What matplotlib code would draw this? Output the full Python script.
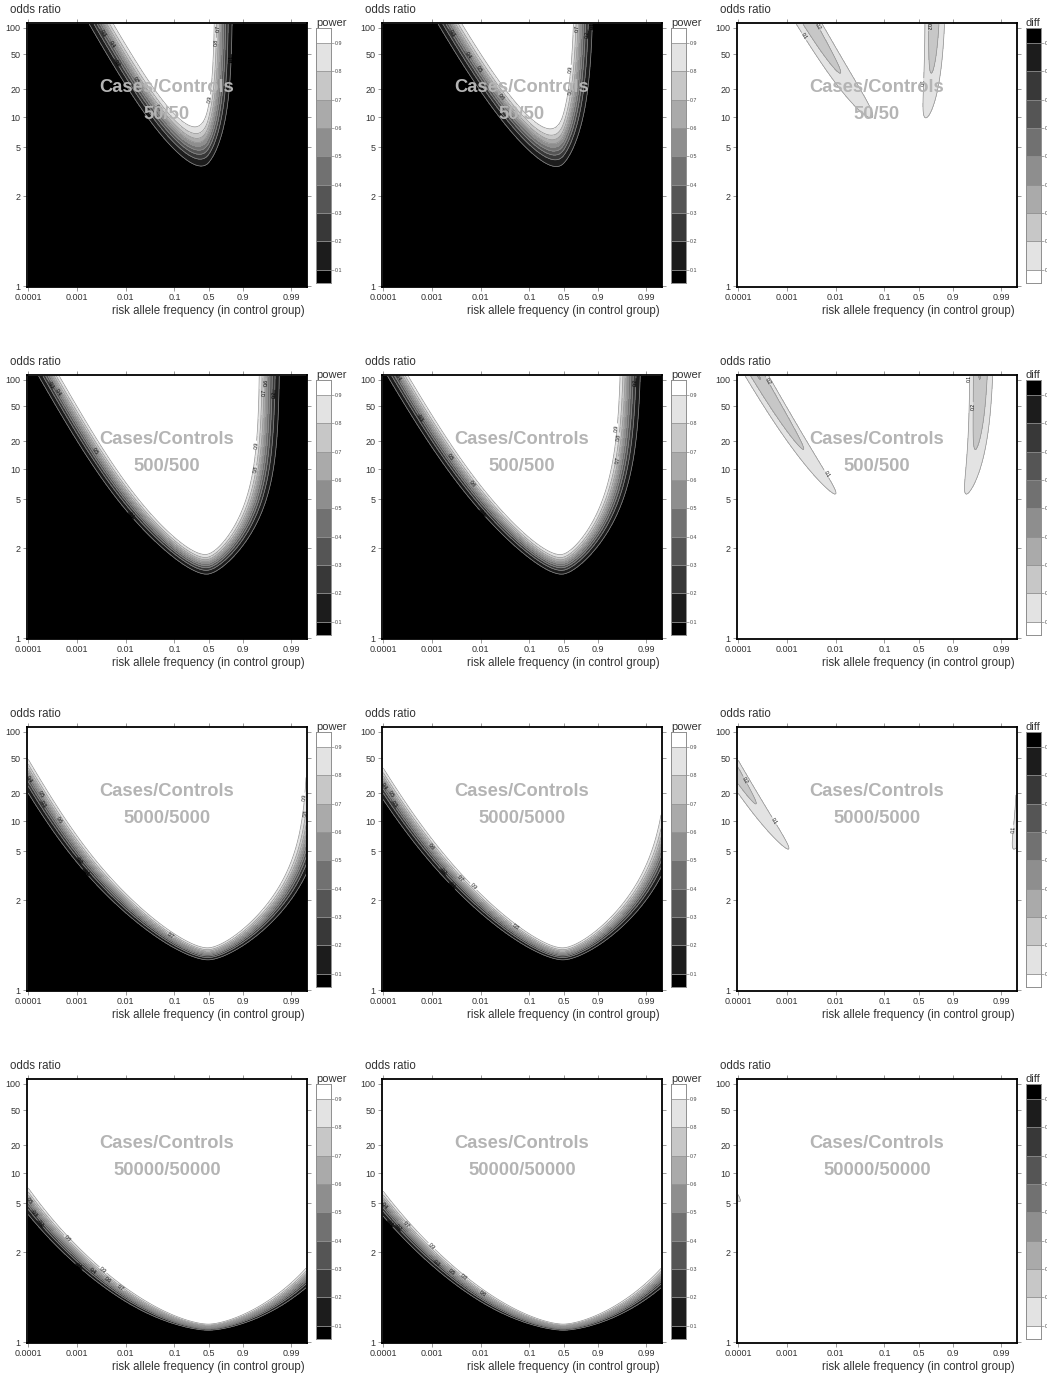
import math

import matplotlib

matplotlib.use("Agg")
import matplotlib.pyplot as plt
import numpy as np
from matplotlib.colors import BoundaryNorm, ListedColormap

plt.rcParams["font.family"] = ["Liberation Sans", "DejaVu Sans"]

# study design: cases = controls per row, genome-wide threshold
SAMPLE_SIZES = [50, 500, 5000, 50000]
ALPHA = 5e-8

# parameter grid limits
FREQ_RANGE = (1e-4, 0.995)
OR_RANGE = (1.0, 110.0)
OR_OFFSET = 0.9

FREQ_TICKS = [0.0001, 0.001, 0.01, 0.1, 0.5, 0.9, 0.99]
FREQ_TICK_LABELS = ["0.0001", "0.001", "0.01", "0.1", "0.5", "0.9", "0.99"]
OR_TICKS = [1, 2, 5, 10, 20, 50, 100]
OR_TICK_LABELS = ["1", "2", "5", "10", "20", "50", "100"]
LEVELS = [0.0, 0.1, 0.2, 0.3, 0.4, 0.5, 0.6, 0.7, 0.8, 0.9, 1.0]
LEVEL_LABELS = ["0.1", "0.2", "0.3", "0.4", "0.5", "0.6", "0.7", "0.8", "0.9"]

W, H = 1047, 1378
COL_X = [27, 382, 737]
ROW_Y = [23, 375, 727, 1079]
PW, PH = 280, 264
TXT = "#333333"
LINE = "#8f8f8f"

LOG_HALF = math.log10(0.5)


def freq_fwd(p):
    p = np.clip(np.asarray(p, dtype=float), 1e-12, 1 - 1e-12)
    with np.errstate(all="ignore"):
        return np.where(p < 0.5, np.log10(p), 2 * LOG_HALF - np.log10(1 - p))


def freq_inv(t):
    t = np.asarray(t, dtype=float)
    with np.errstate(all="ignore"):
        return np.where(t < LOG_HALF, 10.0**t, 1 - 10.0 ** (2 * LOG_HALF - t))


def or_fwd(o):
    o = np.asarray(o, dtype=float)
    with np.errstate(all="ignore"):
        return np.log(np.clip(o - OR_OFFSET, 1e-9, None))


def or_inv(v):
    return np.exp(np.asarray(v, dtype=float)) + OR_OFFSET


_erfc = np.frompyfunc(math.erfc, 1, 1)


def norm_cdf(x):
    return 0.5 * _erfc(-np.asarray(x) / math.sqrt(2)).astype(float)


def critical_z(alpha):
    lo, hi = 0.0, 20.0
    for _ in range(200):
        mid = 0.5 * (lo + hi)
        if math.erfc(mid / math.sqrt(2)) > alpha:
            lo = mid
        else:
            hi = mid
    return 0.5 * (lo + hi)


def allele_table(p0, odds, n):
    # expected allele counts: cases risk/other, controls risk/other
    p1 = odds * p0 / (1 - p0 + odds * p0)
    return 2 * n * p1, 2 * n * (1 - p1), 2 * n * p0, 2 * n * (1 - p0)


def pearson_ncp(a, b, c, d):
    n = a + b + c + d
    return n * (a * d - b * c) ** 2 / ((a + b) * (c + d) * (a + c) * (b + d))


def lrt_ncp(a, b, c, d):
    n = a + b + c + d
    r1, r2, c1, c2 = a + b, c + d, a + c, b + d
    obs = [a, b, c, d]
    exp = [r1 * c1 / n, r1 * c2 / n, r2 * c1 / n, r2 * c2 / n]
    return 2 * sum(o * np.log(o / e) for o, e in zip(obs, exp))


def power(ncp, zc):
    s = np.sqrt(np.clip(ncp, 0, None))
    return norm_cdf(s - zc) + norm_cdf(-s - zc)


gray = plt.cm.gray(np.linspace(0, 1, len(LEVELS) - 1))
power_cmap = ListedColormap(gray)
diff_cmap = ListedColormap(gray[::-1])
norm = BoundaryNorm(LEVELS, len(LEVELS) - 1)

fig = plt.figure(figsize=(W / 100, H / 100), dpi=100)


def px_axes(x, y, w, h):
    return fig.add_axes([x / W, 1 - (y + h) / H, w / W, h / H])


t_grid = np.linspace(freq_fwd(FREQ_RANGE[0]), freq_fwd(FREQ_RANGE[1]), 320)
v_grid = np.linspace(or_fwd(OR_RANGE[0]), or_fwd(OR_RANGE[1]), 320)
P, O = np.meshgrid(freq_inv(t_grid), or_inv(v_grid))
zc = critical_z(ALPHA)


def draw_panel(ax, field, cmap, n):
    ax.set_xscale("function", functions=(freq_fwd, freq_inv))
    ax.set_yscale("function", functions=(or_fwd, or_inv))
    ax.contourf(P, O, field, levels=LEVELS, cmap=cmap, norm=norm)
    cs = ax.contour(P, O, field, levels=LEVELS[1:-1], colors=LINE, linewidths=0.5)
    ax.clabel(cs, fontsize=3.6, fmt="%.1f", inline=True, inline_spacing=1, colors="black")

    ax.set_xlim(freq_inv(t_grid[0] - 0.025), freq_inv(t_grid[-1] + 0.02))
    ax.set_ylim(or_inv(v_grid[0] - 0.02), or_inv(v_grid[-1] + 0.03))
    ax.set_xticks(FREQ_TICKS, FREQ_TICK_LABELS)
    ax.set_yticks(OR_TICKS, OR_TICK_LABELS)
    ax.minorticks_off()
    ax.tick_params(direction="out", length=3, width=0.6, color="#8a8a8a",
                   labelsize=6.5, labelcolor=TXT, pad=1.5,
                   top=True, right=True, labeltop=False, labelright=False)
    for sp in ax.spines.values():
        sp.set_color("black")
        sp.set_linewidth(1.3)

    style = dict(transform=ax.transAxes, ha="center", va="center",
                 fontsize=13.2, fontweight="bold", color="#b4b4b4", zorder=5)
    ax.text(0.5, 0.754, "Cases/Controls", **style)
    ax.text(0.5, 0.655, f"{n}/{n}", **style)


def draw_key(cax, cmap, title):
    cax.bar(0.5, height=np.diff(LEVELS), bottom=LEVELS[:-1], width=1.0,
            color=cmap(np.arange(len(LEVELS) - 1)), edgecolor=LINE, linewidth=0.5)
    cax.set_xlim(0, 1)
    cax.set_ylim(0.053, 0.953)
    cax.set_xticks([])
    cax.yaxis.tick_right()
    cax.set_yticks(LEVELS[1:-1], LEVEL_LABELS)
    cax.tick_params(axis="y", direction="out", length=2, width=0.5, color="#8a8a8a",
                    labelsize=3.8, labelcolor="#444444", pad=1)
    for sp in cax.spines.values():
        sp.set_color(LINE)
        sp.set_linewidth(0.7)
    cax.text(0.0, 1.0, title, transform=cax.transAxes, ha="left", va="bottom",
             fontsize=8, color=TXT)


for row, n in enumerate(SAMPLE_SIZES):
    a, b, c, d = allele_table(P, O, n)
    pw_chi = power(pearson_ncp(a, b, c, d), zc)
    pw_lrt = power(lrt_ncp(a, b, c, d), zc)
    panels = [
        (pw_chi, power_cmap, "power"),
        (pw_lrt, power_cmap, "power"),
        (pw_lrt - pw_chi, diff_cmap, "diff"),
    ]
    top = ROW_Y[row]
    for col, (field, cmap, key_title) in enumerate(panels):
        left = COL_X[col]
        ax = px_axes(left, top, PW, PH)
        draw_panel(ax, field, cmap, n)
        cax = px_axes(left + 289, top + 5, 15, 255)
        draw_key(cax, cmap, key_title)

        fig.text((left - 17) / W, 1 - (top - 13) / H, "odds ratio",
                 ha="left", va="center", fontsize=8.3, color=TXT)
        fig.text((left + 278) / W, 1 - (top + 288) / H,
                 "risk allele frequency (in control group)",
                 ha="right", va="center", fontsize=8.3, color=TXT)

fig.savefig("out.png", dpi=100)
